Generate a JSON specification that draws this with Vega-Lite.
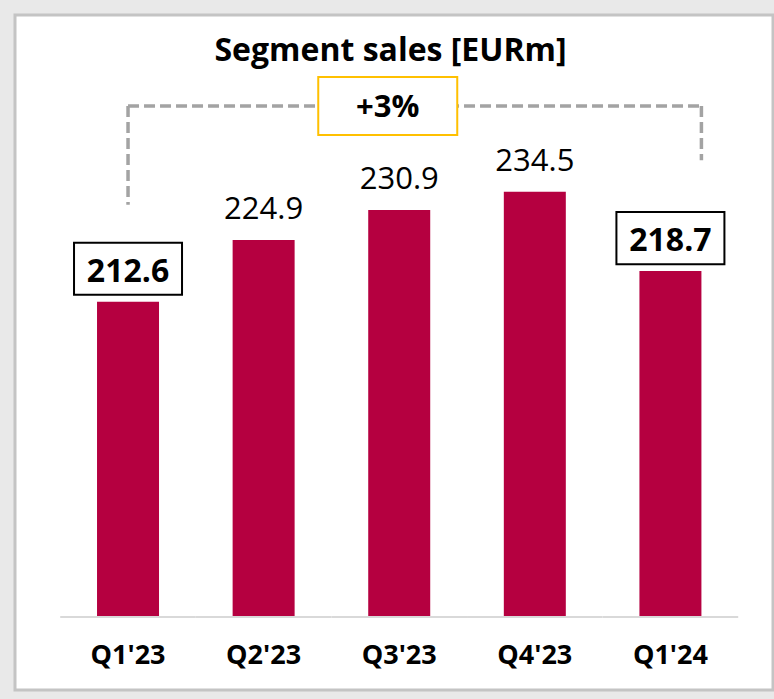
{
  "$schema": "https://vega.github.io/schema/vega-lite/v6.json",
  "width": 758,
  "height": 675,
  "autosize": {"type": "none"},
  "padding": {"left": 15, "top": 15, "right": 1, "bottom": 9},
  "background": "#e9e9e9",
  "config": {"view": {"fill": "#ffffff", "stroke": "#c4c4c4", "strokeWidth": 3}, "font": "Open Sans"},
  "data": {"values": [
    {"q": "Q1'23", "value": 212.6},
    {"q": "Q2'23", "value": 224.9},
    {"q": "Q3'23", "value": 230.9},
    {"q": "Q4'23", "value": 234.5},
    {"q": "Q1'24", "value": 218.7}
  ]},
  "layer": [
    {
      "mark": {"type": "bar", "color": "#d9d9d9", "width": {"band": 2.187}},
      "encoding": {
        "x": {"field": "q", "type": "nominal", "sort": null, "axis": null,
              "scale": {"domain": ["Q1'23", "Q2'23", "Q3'23", "Q4'23", "Q1'24"], "paddingInner": 0.5428, "paddingOuter": 0.5664, "align": 0.534}},
        "y": {"datum": 150, "type": "quantitative", "axis": null,
              "scale": {"domain": [135.26, 269.72], "nice": false, "zero": false}},
        "y2": {"datum": 149.6}
      }
    },
    {
      "mark": {"type": "bar", "color": "#B50040"},
      "encoding": {
        "x": {"field": "q", "type": "nominal", "sort": null},
        "y": {"field": "value", "type": "quantitative"},
        "y2": {"datum": 150}
      }
    },
    {
      "data": {"values": [{}]},
      "mark": {"type": "rule", "color": "#a3a3a3", "strokeWidth": 3.5, "strokeDash": [11, 5]},
      "encoding": {
        "x": {"datum": "Q1'23", "type": "nominal"},
        "y": {"datum": 251.6, "type": "quantitative"},
        "y2": {"datum": 231.9}
      }
    },
    {
      "data": {"values": [{}]},
      "mark": {"type": "rule", "color": "#a3a3a3", "strokeWidth": 3.5, "strokeDash": [11, 5]},
      "encoding": {
        "x": {"datum": "Q1'23", "type": "nominal"},
        "x2": {"datum": "Q1'24", "bandPosition": 1},
        "y": {"datum": 251.6, "type": "quantitative"}
      }
    },
    {
      "data": {"values": [{}]},
      "mark": {"type": "rule", "color": "#a3a3a3", "strokeWidth": 3.5, "strokeDash": [11, 5]},
      "encoding": {
        "x": {"datum": "Q1'24", "type": "nominal", "bandPosition": 1},
        "y": {"datum": 251.6, "type": "quantitative"},
        "y2": {"datum": 240.8}
      }
    },
    {
      "data": {"values": [{"label": "+3%"}]},
      "mark": {"type": "point", "shape": "M-1,-0.417H1V0.417H-1Z", "size": 19321, "filled": true, "color": "#ffffff", "opacity": 1, "stroke": "#FFC000", "strokeWidth": 2},
      "encoding": {
        "x": {"datum": "Q3'23", "type": "nominal", "bandPosition": 0.315},
        "y": {"datum": 251.6, "type": "quantitative"}
      }
    },
    {
      "data": {"values": [{"label": "+3%"}]},
      "mark": {"type": "text", "fontSize": 31, "fontWeight": "bold", "color": "#000000", "baseline": "alphabetic", "align": "center"},
      "encoding": {
        "x": {"datum": "Q3'23", "type": "nominal", "bandPosition": 0.315},
        "y": {"datum": 249.4, "type": "quantitative"},
        "text": {"field": "label"}
      }
    },
    {
      "transform": [{"filter": {"field": "q", "oneOf": ["Q1'23", "Q1'24"]}}],
      "mark": {"type": "point", "shape": "M-1,-0.4815H1V0.4815H-1Z", "size": 11664, "filled": true, "color": "#ffffff", "opacity": 1, "stroke": "#000000", "strokeWidth": 2, "yOffset": -33},
      "encoding": {
        "x": {"field": "q", "type": "nominal", "sort": null},
        "y": {"field": "value", "type": "quantitative"}
      }
    },
    {
      "transform": [{"filter": {"field": "q", "oneOf": ["Q1'23", "Q1'24"]}}],
      "mark": {"type": "text", "fontSize": 32, "fontWeight": "bold", "color": "#000000", "baseline": "alphabetic", "align": "center", "dy": -20},
      "encoding": {
        "x": {"field": "q", "type": "nominal", "sort": null},
        "y": {"field": "value", "type": "quantitative"},
        "text": {"field": "value", "type": "quantitative", "format": ".1f"}
      }
    },
    {
      "transform": [{"filter": {"not": {"field": "q", "oneOf": ["Q1'23", "Q1'24"]}}}],
      "mark": {"type": "text", "fontSize": 31, "color": "#000000", "baseline": "alphabetic", "align": "center", "dy": -21},
      "encoding": {
        "x": {"field": "q", "type": "nominal", "sort": null},
        "y": {"field": "value", "type": "quantitative"},
        "text": {"field": "value", "type": "quantitative", "format": ".1f"}
      }
    },
    {
      "mark": {"type": "text", "fontSize": 27, "fontWeight": "bold", "color": "#000000", "baseline": "alphabetic", "align": "center"},
      "encoding": {
        "x": {"field": "q", "type": "nominal", "sort": null},
        "y": {"datum": 140.44, "type": "quantitative"},
        "text": {"field": "q"}
      }
    },
    {
      "data": {"values": [{"title": "Segment sales [EURm]"}]},
      "mark": {"type": "text", "fontSize": 32, "fontWeight": "bold", "color": "#000000", "baseline": "alphabetic", "align": "center"},
      "encoding": {
        "x": {"datum": "Q3'23", "type": "nominal", "bandPosition": 0.36},
        "y": {"datum": 260.56, "type": "quantitative"},
        "text": {"field": "title"}
      }
    }
  ]
}
